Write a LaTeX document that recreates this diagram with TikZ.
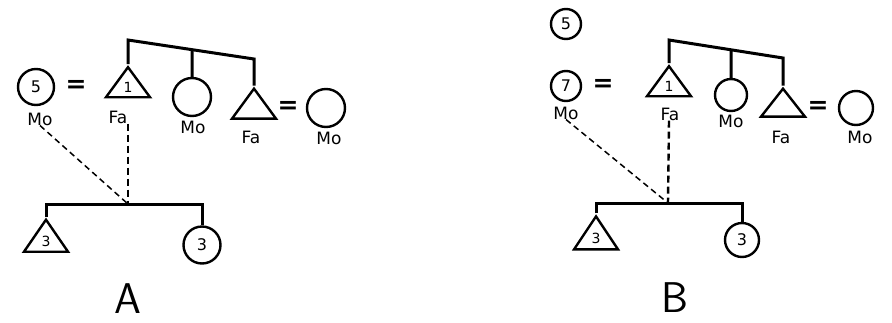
\documentclass[tikz,border=0pt]{standalone}
\usepackage{fontspec}
\newfontfamily\handfont{DejaVu Sans}
\usetikzlibrary{shapes.geometric,calc}

\tikzset{
    kin/.style={line width=3pt},
    dsh/.style={line width=2.4pt, dash pattern=on 7pt off 4pt},
    dshthin/.style={line width=1.5pt, dash pattern=on 6pt off 4pt},
    male/.style={draw, line width=2.4pt, isosceles triangle, isosceles triangle stretches,
        shape border rotate=90, inner sep=0pt, minimum width=44pt, minimum height=30pt,
        font=\handfont\fontsize{14}{14}\selectfont},
    female/.style={draw, line width=2.4pt, circle, inner sep=0pt, minimum size=#1,
        font=\handfont\fontsize{16}{16}\selectfont},
    female/.default=36pt,
    lbl/.style={font=\handfont\fontsize{17}{17}\selectfont, inner sep=0pt},
    eq/.style={font=\handfont\bfseries\fontsize{25}{25}\selectfont, inner sep=0pt},
    big/.style={font=\sffamily\fontsize{43}{43}\selectfont, inner sep=0pt}
}

\begin{document}
\begin{tikzpicture}[x=1pt,y=-1pt]
        \useasboundingbox (0,0) rectangle (892,322);

        % A
        \node[female=36pt] (egoA) at (36,87) {5};
        \node[lbl] (egoAl) at (40,119) {Mo};
        \node[eq] (eqA1) at (76,86) {=};
        \node[male] (faA) at (128,87) {1};
        \node[lbl] (faAl) at (118,117) {Fa};
        \node[female=38pt] (moA) at (192,97) {};
        \node[lbl] (moAl) at (193,127) {Mo};
        \node[male] (fbA) at (254,107.5) {};
        \node[lbl] (fbAl) at (251,137) {Fa};
        \node[eq] (eqA2) at (288,107) {=};
        \node[female=38pt] (wA) at (326,108) {};
        \node[lbl] (wAl) at (329,138) {Mo};
        \node[male, minimum height=32pt] (sonA) at (46,241) {3};
        \node[female=37pt] (dauA) at (202,245) {3};
        \node[big] (capA) at (128,299) {A};

        \coordinate (sA1) at (128,40);
        \coordinate (sA3) at (254,59);
        \coordinate (sAm) at ($(sA1)!0.508!(sA3)$);
        \coordinate (bA) at (128,204);
        \draw[kin] (faA.apex) -- (sA1) -- (sA3) -- (fbA.apex);
        \draw[kin] (sAm) -- (moA.north);
        \draw[kin] (sonA.apex) |- (bA) -| (dauA.north);
        \draw[dsh] (faA.apex |- faAl.south) -- (bA);
        \draw[dshthin] (egoAl.south) -- (bA);

        % B
        \node[female=30pt] (extB) at (566,24) {5};
        \node[female=30pt] (egoB) at (566,86) {7};
        \node[lbl] (egoBl) at (566,113) {Mo};
        \node[eq] (eqB1) at (603,85) {=};
        \node[male] (faB) at (669,86) {1};
        \node[lbl] (faBl) at (670,114) {Fa};
        \node[female=32pt] (moB) at (731,95) {};
        \node[lbl] (moBl) at (731,121) {Mo};
        \node[male, minimum height=28pt] (fbB) at (783,106) {};
        \node[lbl] (fbBl) at (781,137) {Fa};
        \node[eq] (eqB2) at (818,107) {=};
        \node[female=34pt] (wB) at (856,108) {};
        \node[lbl] (wBl) at (860,137) {Mo};
        \node[male, minimum height=33pt] (sonB) at (596,238.5) {3};
        \node[female=34pt] (dauB) at (742,240) {3};
        \node[big] (capB) at (675,298) {B};

        \coordinate (sB1) at (669,40);
        \coordinate (sB3) at (783,58);
        \coordinate (sBm) at ($(sB1)!0.544!(sB3)$);
        \coordinate (bB) at (668,203);
        \draw[kin] (faB.apex) -- (sB1) -- (sB3) -- (fbB.apex);
        \draw[kin] (sBm) -- (moB.north);
        \draw[kin] (sonB.apex) |- (bB) -| (dauB.north);
        \draw[dsh] (faB.apex |- faBl.south) -- (bB);
        \draw[dshthin] (egoBl.south) -- (bB);
    \end{tikzpicture}
\end{document}
